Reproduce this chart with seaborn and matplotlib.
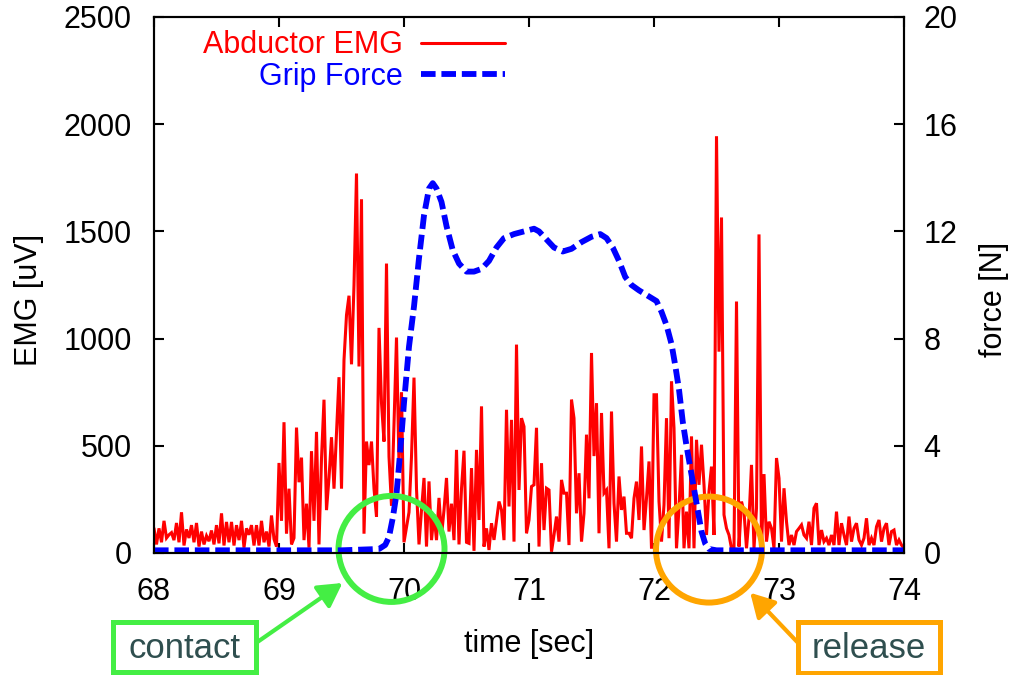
import numpy as np
import matplotlib
matplotlib.use("Agg")
import matplotlib.pyplot as plt
import seaborn as sns
from matplotlib.patches import Circle, Rectangle
from matplotlib.transforms import ScaledTranslation
from matplotlib.lines import Line2D

# ---------------- data ----------------
emg_start = 68.0          # s
emg_step = 0.02           # s between EMG samples
emg_values = [
    # 68.00 - 68.48
    115, 40, 115, 50, 150, 70, 85, 95, 60, 140, 50, 190, 35, 110, 70, 130, 50, 140, 30, 100, 40, 80, 55, 105, 40,
    # 68.50 - 68.98
    130, 45, 185, 35, 145, 50, 145, 35, 130, 60, 150, 25, 115, 85, 130, 35, 130, 35, 150, 50, 100, 30, 175, 65, 30,
    # 69.00 - 69.48
    420, 150, 610, 90, 300, 40, 70, 585, 330, 445, 60, 230, 25, 475, 150, 565, 40, 440, 715, 200, 350, 540, 300, 560, 820,
    # 69.50 - 69.98
    300, 900, 1110, 1200, 880, 1250, 1770, 870, 1650, 90, 520, 410, 520, 300, 170, 1050, 700, 520, 1350, 450, 220, 600, 1005, 410, 750,
    # 70.00 - 70.48
    50, 120, 190, 450, 818, 300, 40, 200, 350, 30, 334, 60, 180, 60, 257, 80, 200, 350, 100, 230, 60, 481, 40, 300, 477,
    # 70.50 - 70.98
    50, 45, 396, 10, 481, 154, 684, 30, 115, 14, 139, 61, 150, 240, 201, 60, 668, 217, 621, 53, 972, 294, 629, 590, 92,
    # 71.00 - 71.48
    154, 310, 318, 584, 30, 419, 107, 302, 294, 6, 84, 170, 53, 341, 279, 279, 37, 715, 629, 185, 372, 53, 185, 552, 255,
    # 71.50 - 71.98
    933, 452, 699, 92, 653, 279, 294, 22, 660, 232, 53, 357, 201, 263, 92, 92, 69, 255, 333, 154, 497, 107, 255, 427, 20,
    # 72.00 - 72.48
    738, 738, 240, 53, 224, 629, 69, 801, 583, 22, 209, 458, 22, 193, 22, 544, 22, 528, 318, 505, 318, 84, 287, 403, 84,
    # 72.50 - 72.98
    1944, 939, 1565, 178, 115, 84, 22, 22, 1173, 30, 240, 193, 22, 162, 411, 22, 209, 1486, 22, 368, 53, 146, 115, 22, 443,
    # 73.00 - 73.48
    349, 53, 302, 146, 37, 84, 37, 100, 115, 131, 84, 69, 146, 37, 209, 232, 37, 107, 53, 69, 37, 84, 37, 193, 37,
    # 73.50 - 74.00
    139, 84, 37, 170, 53, 115, 139, 61, 37, 69, 162, 37, 69, 37, 123, 154, 53, 115, 139, 37, 100, 107, 37, 61, 37, 22,
]

force_time = [68.0, 68.5, 69.0, 69.5, 69.8, 69.85, 69.88, 69.91, 69.94, 69.97, 70.00, 70.04, 70.08,
              70.12, 70.16, 70.20, 70.23, 70.26, 70.30, 70.34, 70.39, 70.44, 70.50, 70.56, 70.62,
              70.68, 70.74, 70.80, 70.88, 70.96, 71.04, 71.08, 71.14, 71.20, 71.27, 71.34, 71.42,
              71.50, 71.57, 71.62, 71.67, 71.72, 71.77, 71.82, 71.88, 71.95, 72.02, 72.06, 72.10,
              72.14, 72.17, 72.20, 72.23, 72.26, 72.29, 72.32, 72.35, 72.38, 72.41, 72.44, 72.5,
              73.0, 73.5, 74.0]
force_values = [0.1, 0.1, 0.1, 0.1, 0.15, 0.3, 0.6, 1.3, 2.2, 3.8, 5.6, 7.7, 9.2,
                11.0, 12.6, 13.6, 13.8, 13.6, 13.1, 12.2, 11.3, 10.8, 10.5, 10.5, 10.6,
                10.9, 11.4, 11.75, 11.9, 12.0, 12.1, 12.0, 11.7, 11.4, 11.25, 11.35, 11.6,
                11.8, 11.9, 11.75, 11.4, 10.9, 10.3, 10.0, 9.8, 9.6, 9.4, 9.0, 8.5,
                7.8, 7.0, 6.1, 4.9, 4.0, 3.2, 2.4, 1.6, 0.8, 0.35, 0.15, 0.1,
                0.1, 0.1, 0.1]

x_ticks = [68, 69, 70, 71, 72, 73, 74]
emg_ticks = [0, 500, 1000, 1500, 2000, 2500]
force_ticks = [0, 4, 8, 12, 16, 20]

series_labels = ["Abductor EMG", "Grip Force"]
event_labels = ["contact", "release"]
event_times = [69.90, 72.44]
event_emg = [19, 16]

# ---------------- styling ----------------
RED = "#ff0000"
BLUE = "#0000ff"
GREEN = "#44ee44"
ORANGE = "#ffa500"
EVENT_TEXT = "#2f4f4f"
FS = 22
EMG_LW = 2.2
FORCE_LW = 4.2
FORCE_DASH = [2.5, 1.0]

sns.set_theme(style="ticks")
plt.rcParams["font.family"] = ["Liberation Sans", "DejaVu Sans"]
plt.rcParams["axes.edgecolor"] = "black"
plt.rcParams["axes.linewidth"] = 1.5
plt.rcParams["xtick.color"] = "black"
plt.rcParams["ytick.color"] = "black"
plt.rcParams["text.color"] = "black"
plt.rcParams["axes.labelcolor"] = "black"

W, H = 1015, 675
fig = plt.figure(figsize=(W / 100, H / 100), dpi=100)
ax = fig.add_axes([154 / W, 122 / H, 750 / W, 536 / H])
ax2 = ax.twinx()

emg_time = emg_start + emg_step * np.arange(len(emg_values))
sns.lineplot(x=emg_time, y=emg_values, ax=ax, color=RED, lw=EMG_LW,
             estimator=None, legend=False)
sns.lineplot(x=force_time, y=force_values, ax=ax2, color=BLUE, lw=FORCE_LW,
             estimator=None, legend=False)
emg_line = ax.lines[0]
emg_line.set_solid_joinstyle("miter")
force_line = ax2.lines[0]
force_line.set_dashes(FORCE_DASH)
force_line.set_dash_capstyle("butt")

ax.set_xlim(68, 74)
ax.set_ylim(0, 2500)
ax2.set_ylim(0, 20)
ax.set_xticks(x_ticks)
ax.set_yticks(emg_ticks)
ax2.set_yticks(force_ticks)

ax.tick_params(axis="x", direction="in", top=True, bottom=True, length=7, width=1.5,
               labelsize=FS, pad=17)
ax.tick_params(axis="y", direction="in", left=True, right=False, length=7, width=1.5,
               labelsize=FS, pad=16)
ax2.tick_params(axis="y", direction="in", right=True, length=7, width=1.5,
                labelsize=FS, pad=14)
for a in (ax, ax2):
    for s in a.spines.values():
        s.set_visible(True)
        s.set_color("black")
        s.set_linewidth(1.5)

ax.set_xlabel("time [sec]", fontsize=FS)
ax.set_ylabel("EMG [uV]", fontsize=FS)
ax2.set_ylabel("force [N]", fontsize=FS)
ax.xaxis.set_label_coords(0.5007, -0.141)
ax.yaxis.set_label_coords(-0.146, 0.473)
ax2.yaxis.set_label_coords(1.100, 0.473)

# legend (text right-aligned, sample to the right)
handles = [Line2D([], [], color=RED, lw=EMG_LW),
           Line2D([], [], color=BLUE, lw=FORCE_LW, dashes=FORCE_DASH)]
leg = ax2.legend(handles, series_labels, loc="upper right", bbox_to_anchor=(0.468, 0.975),
                 frameon=False, markerfirst=False, fontsize=FS, handlelength=2.75,
                 handletextpad=0.6, labelspacing=0.05, borderpad=0.0,
                 borderaxespad=0.0)
for txt, col in zip(leg.get_texts(), [RED, BLUE]):
    txt.set_color(col)

# event circles (true circles around data points)
for t, v, col in zip(event_times, event_emg, [GREEN, ORANGE]):
    circ = Circle((0, 0), radius=0.53, fill=False, ec=col, lw=4.3, clip_on=False, zorder=5,
                  transform=fig.dpi_scale_trans + ScaledTranslation(t, v, ax.transData))
    ax.add_patch(circ)
ax.set_xlim(68, 74)
ax.set_ylim(0, 2500)

# event boxes and arrows
box_specs = [  # (x0, y0, w, h) in figure pixels, arrow tail (x, y) in figure pixels
    ((113, 3, 143, 50), (256, 32)),
    ((798, 2, 142, 51), (802, 28)),
]
for label, t, v, col, (rect, tail) in zip(event_labels, event_times, event_emg,
                                          [GREEN, ORANGE], box_specs):
    x0, y0, w, h = rect
    fig.add_artist(Rectangle((x0 / W, y0 / H), w / W, h / H, transform=fig.transFigure,
                             fill=True, fc="white", ec=col, lw=3.6, zorder=6))
    fig.text((x0 + w / 2) / W, (y0 + h / 2 - 1) / H, label, ha="center", va="center",
             fontsize=25, color=EVENT_TEXT, zorder=7)
    ann = ax.annotate("", xy=(t, v), xycoords="data", xytext=tail,
                      textcoords="figure pixels",
                      arrowprops=dict(arrowstyle="-|>,head_length=0.8,head_width=0.45",
                                      color=col, lw=3, shrinkA=0, shrinkB=43,
                                      mutation_scale=18),
                      annotation_clip=False)
    ann.arrow_patch.set_clip_on(False)

fig.savefig("out.png", dpi=100)
